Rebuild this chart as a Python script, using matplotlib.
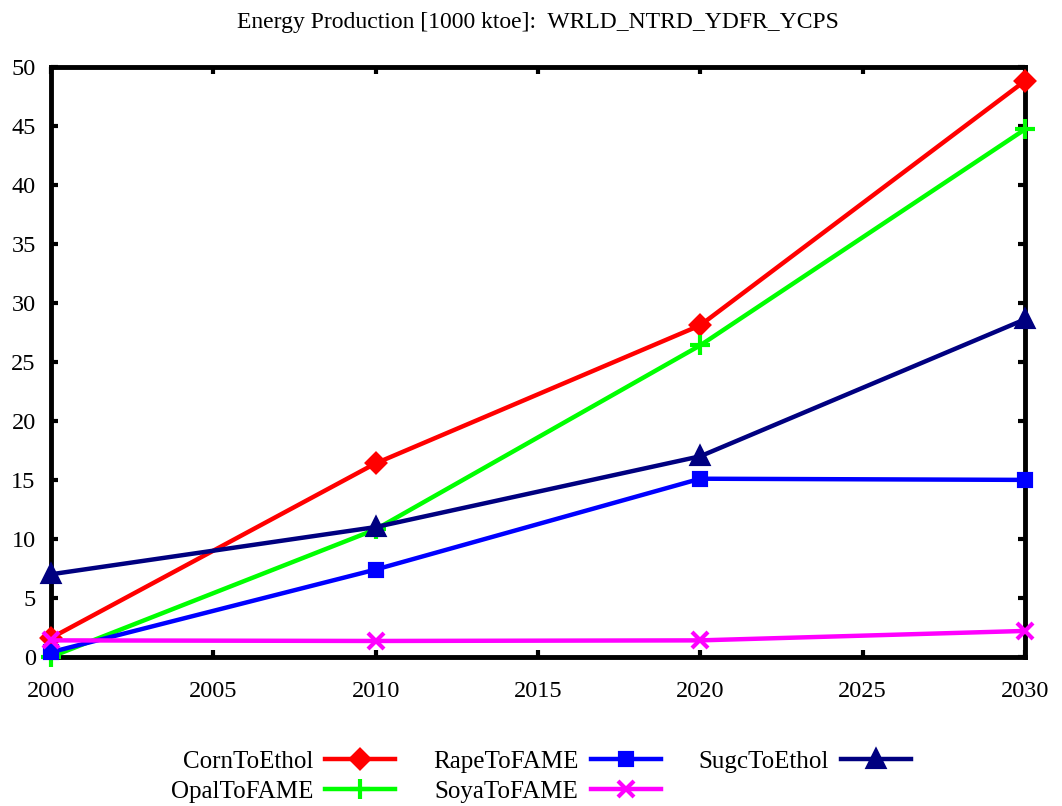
import matplotlib
matplotlib.use('Agg')
import matplotlib.pyplot as plt

plt.rcParams['font.family'] = ['Liberation Serif', 'DejaVu Serif']

years = [2000, 2010, 2020, 2030]
corn = [1.6, 16.4, 28.1, 48.8]
opal = [0.0, 10.8, 26.4, 44.7]
rape = [0.4, 7.4, 15.1, 15.0]
soya = [1.4, 1.35, 1.4, 2.2]
sugc = [7.0, 11.0, 17.0, 28.6]

fig = plt.figure(figsize=(10.62, 8.06), dpi=100)
ax = fig.add_axes([0.048, 0.185, 0.917, 0.732])

series = [
    ('CornToEthol', corn, 'red', 'D', 9),
    ('OpalToFAME', opal, '#00ff00', '+', 14),
    ('RapeToFAME', rape, 'blue', 's', 9),
    ('SoyaToFAME', soya, 'magenta', 'x', 11),
    ('SugcToEthol', sugc, '#000080', '^', 11),
]
for name, vals, col, mk, ms in series:
    ax.plot(years, vals, color=col, lw=3.2, marker=mk, markersize=ms,
            markeredgewidth=3, label=name, clip_on=False, zorder=3)

ax.set_xlim(2000, 2030)
ax.set_ylim(0, 50)
ax.set_xticks(range(2000, 2031, 5))
ax.set_yticks(range(0, 51, 5))
ax.tick_params(direction='in', length=5, width=3, labelsize=17.5,
               top=True, right=True)
ax.tick_params(axis='x', pad=17)
ax.tick_params(axis='y', pad=11)
for sp in ax.spines.values():
    sp.set_linewidth(3.5)

ax.set_title('Energy Production [1000 ktoe]:  WRLD_NTRD_YDFR_YCPS',
             fontsize=17, pad=28)

ax.legend(loc='center', bbox_to_anchor=(0.503, -0.203), ncol=3, frameon=False,
          markerfirst=False, handlelength=2.8, fontsize=18, columnspacing=1.5,
          labelspacing=0.3, handletextpad=0.5)

fig.savefig('out.png', dpi=100)
